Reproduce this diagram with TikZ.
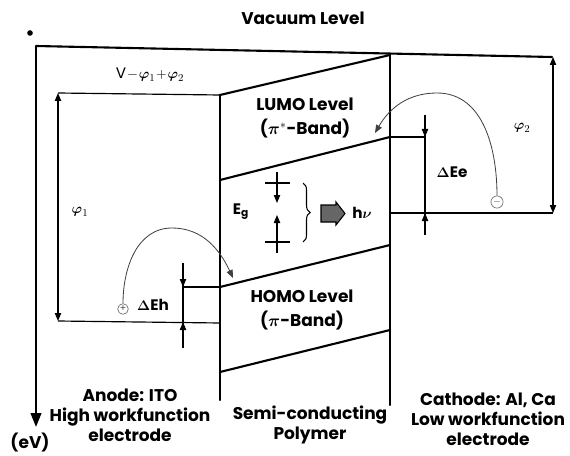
\documentclass[tikz,border=0pt]{standalone}
\usepackage{amsmath}
\usepackage{fontspec}
\setmainfont{Poppins}
\usepackage{tikz}
\usetikzlibrary{arrows.meta,decorations.pathreplacing}

\begin{document}
\begin{tikzpicture}[
  x=0.03cm, y=-0.03cm,
  band/.style={line width=1.8pt, line cap=round},
  level/.style={line width=1pt},
  measure/.style={line width=0.9pt, -{Triangle[length=2.4mm,width=1.9mm]}},
  twoway/.style={line width=0.9pt, {Triangle[length=2.4mm,width=1.9mm]}-{Triangle[length=2.4mm,width=1.9mm]}},
  hop/.style={line width=0.7pt, draw=black!75, -{Triangle[length=2.4mm,width=1.9mm]}},
  charge/.style={circle, draw=black!55, line width=0.6pt, inner sep=0.6pt,
    font=\fontsize{8}{8}\selectfont, text=black!70},
  bandtext/.style={font=\fontsize{14.5}{17}\selectfont\bfseries, align=center},
  sym/.style={font=\fontsize{13}{15}\selectfont}
]
\useasboundingbox (0,0) rectangle (570,455);

% energy axis and vacuum level
\fill (30,33) circle[radius=2.4pt];
\draw[line width=1.8pt, -{Triangle[length=4.2mm,width=3.2mm]}] (36,46) -- (36,427);
\draw[band] (36,46) -- (552,57);
\node[bandtext] (vacuum) at (303,18) {Vacuum Level};

% polymer bands
\draw[band] (220,95) -- (220,400);
\draw[band] (390,55) -- (390,405);
\draw[band] (220,95) -- (390,55);
\draw[band] (220,180) -- (390,137);
\draw[band] (220,287) -- (390,245);
\draw[band] (220,372) -- (390,330);
\node[bandtext] (lumo) at (305,118) {LUMO Level\\[3pt]{}($\boldsymbol{\pi}^{*}$-Band)};
\node[bandtext] (homo) at (302,310) {HOMO Level\\[3pt]{}($\boldsymbol{\pi}$-Band)};

% anode side
\draw[level] (58,93) -- (220,95);
\draw[level] (58,321) -- (220,323);
\draw[twoway] (58,93) -- (58,321);
\node[sym] (vshift) at (150,75) {$\mathrm{V}\!-\!\boldsymbol{\varphi}_1\!+\!\boldsymbol{\varphi}_2$};
\node[sym] (phione) at (80,212) {$\boldsymbol{\varphi}_1$};
\draw[level] (183,287) -- (220,287);
\draw[line width=0.9pt] (183,263) -- (183,348);
\draw[measure] (183,270) -- (183,287);
\draw[measure] (183,340) -- (183,322);
\node[sym] (dEh) at (153,305) {$\boldsymbol{\Delta}\mathbf{Eh}$};
\node[charge] (hole) at (123,309) {+};
\draw[hop] (hole.north) to[out=90,in=180] (172,228) to[out=0,in=115] (233,278);

% cathode side
\draw[level] (390,213) -- (553,213);
\draw[twoway] (553,57) -- (553,213);
\node[sym] (phitwo) at (522,128) {$\boldsymbol{\varphi}_2$};
\draw[level] (390,137) -- (425,137);
\draw[line width=0.9pt] (425,115) -- (425,235);
\draw[measure] (425,120) -- (425,137);
\draw[measure] (425,230) -- (425,213);
\node[sym] (dEe) at (452,172) {$\boldsymbol{\Delta}\mathbf{Ee}$};
\node[charge] (electron) at (497,202) {$-$};
\draw[hop] (electron.north) to[out=90,in=0] (437,93) to[out=180,in=60] (375,133);

% band gap and emission
\node[sym] (gap) at (241,212) {$\mathbf{E_g}$};
\draw[line width=0.9pt] (265,183) -- (290,183);
\draw[measure] (277,172) -- (277,203);
\draw[line width=0.9pt] (265,242) -- (290,242);
\draw[measure] (277,253) -- (277,215);
\draw[line width=0.9pt, decorate, decoration={brace, amplitude=6pt}] (303,183) -- (303,242);
\filldraw[fill=black!60, line width=0.9pt] (321,205) -- (336,205) -- (336,202) -- (345,213.5)
  -- (336,225) -- (336,222) -- (321,222) -- cycle;
\node[sym] (photon) at (362,213) {$\mathbf{h}\boldsymbol{\nu}$};

% electrode and polymer labels
\node[bandtext] (anode) at (130,415) {Anode: ITO\\High workfunction\\electrode};
\node[bandtext] (polymer) at (310,425) {Semi-conducting\\Polymer};
\node[bandtext] (cathode) at (488,419) {Cathode: Al, Ca\\Low workfunction\\electrode};
\node[bandtext] (unit) at (30,443) {(eV)};
\end{tikzpicture}
\end{document}
